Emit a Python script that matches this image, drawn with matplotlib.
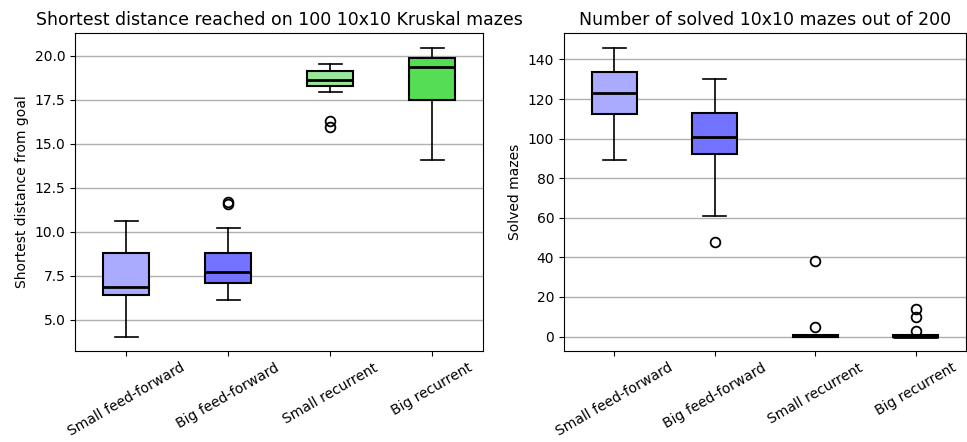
import matplotlib
matplotlib.use("Agg")
import matplotlib.pyplot as plt

labels = ["Small feed-forward", "Big feed-forward", "Small recurrent", "Big recurrent"]
colors = ["#aaaaff", "#7373ff", "#99e699", "#55dd55"]

# shortest distance stats: whislo, q1, med, q3, whishi
dist_whislo = [4.05, 6.11, 17.97, 14.09]
dist_q1 = [6.40, 7.10, 18.26, 17.52]
dist_med = [6.85, 7.70, 18.65, 19.37]
dist_q3 = [8.82, 8.79, 19.15, 19.86]
dist_whishi = [10.59, 10.19, 19.52, 20.47]
dist_fliers = [[], [11.6, 11.7], [16.28, 15.98], []]

# solved mazes stats
solved_whislo = [89, 61, 0, 0]
solved_q1 = [112.5, 92, 0, 0]
solved_med = [123, 101, 1, 0]
solved_q3 = [133.5, 113, 1, 1]
solved_whishi = [146, 130, 1, 1]
solved_fliers = [[], [48], [38, 5], [14, 10, 3]]


def make_stats(lo, q1, med, q3, hi, fl):
    return [dict(label=labels[i], whislo=lo[i], q1=q1[i], med=med[i], q3=q3[i],
                 whishi=hi[i], fliers=fl[i]) for i in range(len(labels))]


def draw(ax, stats, title, ylabel):
    bp = ax.bxp(stats, widths=0.45, patch_artist=True, showfliers=True,
                boxprops=dict(linewidth=1.5, edgecolor="black"),
                medianprops=dict(color="black", linewidth=2),
                whiskerprops=dict(linewidth=1.2),
                capprops=dict(linewidth=1.2),
                flierprops=dict(marker="o", markerfacecolor="none",
                                markeredgecolor="black", markersize=7, markeredgewidth=1.3))
    for patch, c in zip(bp["boxes"], colors):
        patch.set_facecolor(c)
    ax.set_title(title, fontsize=12.5)
    ax.set_ylabel(ylabel, fontsize=10)
    ax.yaxis.grid(True, color="#b0b0b0", linewidth=1)
    ax.set_axisbelow(True)
    ax.tick_params(axis="x", labelrotation=30, labelsize=10)
    ax.tick_params(axis="y", labelsize=10)


fig = plt.figure(figsize=(9.67, 4.42), dpi=100)
ax1 = fig.add_axes([0.0776, 0.206, 0.422, 0.719])
ax2 = fig.add_axes([0.5832, 0.206, 0.4158, 0.719])

draw(ax1, make_stats(dist_whislo, dist_q1, dist_med, dist_q3, dist_whishi, dist_fliers),
     "Shortest distance reached on 100 10x10 Kruskal mazes", "Shortest distance from goal")
draw(ax2, make_stats(solved_whislo, solved_q1, solved_med, solved_q3, solved_whishi, solved_fliers),
     "Number of solved 10x10 mazes out of 200", "Solved mazes")
ax2.set_yticks([0, 20, 40, 60, 80, 100, 120, 140])

fig.savefig("out.png", dpi=100)
